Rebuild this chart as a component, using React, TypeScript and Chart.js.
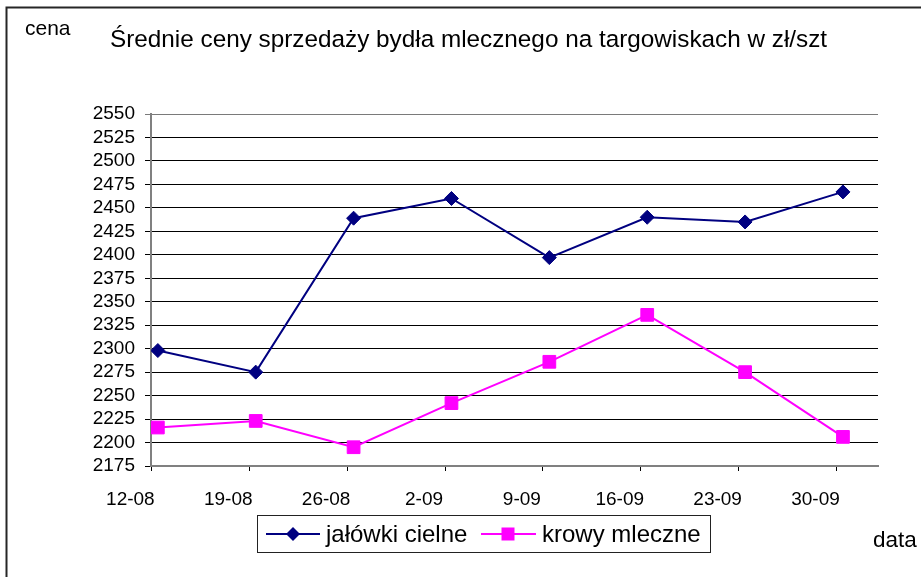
import React, { useEffect, useRef } from "react";
import { Chart, registerables } from "chart.js";

Chart.register(...registerables);

const categories = ["12-08", "19-08", "26-08", "2-09", "9-09", "16-09", "23-09", "30-09"];
const jalowkiCielne = [2298, 2275, 2439, 2460, 2397, 2440, 2435, 2467];
const krowyMleczne = [2216, 2223, 2195, 2242, 2286, 2336, 2275, 2206];
const yMin = 2175;
const yMax = 2550;
const yStep = 25;

const seriesNames = ["jałówki cielne", "krowy mleczne"];
const titleText = "Średnie ceny sprzedaży bydła mlecznego na targowiskach w zł/szt";
const yAxisTitle = "cena";
const xAxisTitle = "data";

const NAVY = "#000080";
const MAGENTA = "#FF00FF";
const FONT = "'Liberation Sans', Arial, sans-serif";

function drawDiamond(ctx: CanvasRenderingContext2D, x: number, y: number, r: number, color: string) {
  ctx.beginPath();
  ctx.moveTo(x - r, y);
  ctx.lineTo(x, y - r);
  ctx.lineTo(x + r, y);
  ctx.lineTo(x, y + r);
  ctx.closePath();
  ctx.fillStyle = color;
  ctx.fill();
}

function drawSquare(ctx: CanvasRenderingContext2D, x: number, y: number, h: number, color: string) {
  ctx.fillStyle = color;
  ctx.fillRect(x - h, y - h, 2 * h, 2 * h);
}

const decorPlugin = {
  id: "decor",
  afterDraw(chart: any) {
    const ctx: CanvasRenderingContext2D = chart.ctx;
    ctx.save();
    // outer frame (top + left visible)
    ctx.strokeStyle = "#262626";
    ctx.lineWidth = 2;
    ctx.beginPath();
    ctx.moveTo(6.5, 600);
    ctx.lineTo(6.5, 7.5);
    ctx.lineTo(940, 7.5);
    ctx.stroke();

    ctx.fillStyle = "#000";
    ctx.textBaseline = "alphabetic";
    ctx.textAlign = "left";
    ctx.font = `21px ${FONT}`;
    ctx.fillText(yAxisTitle, 25, 35);
    ctx.font = `24.3px ${FONT}`;
    ctx.fillText(titleText, 110, 47);
    ctx.font = `22.5px ${FONT}`;
    ctx.fillText(xAxisTitle, 873, 547);

    // legend box
    ctx.strokeStyle = "#222";
    ctx.lineWidth = 1;
    ctx.strokeRect(257.5, 515.5, 453, 37);
    const ly = 534;
    ctx.lineWidth = 2;
    ctx.strokeStyle = NAVY;
    ctx.beginPath();
    ctx.moveTo(266, ly);
    ctx.lineTo(320, ly);
    ctx.stroke();
    drawDiamond(ctx, 293, ly, 7, NAVY);
    ctx.strokeStyle = MAGENTA;
    ctx.beginPath();
    ctx.moveTo(481, ly);
    ctx.lineTo(536, ly);
    ctx.stroke();
    drawSquare(ctx, 508, ly, 6.5, MAGENTA);
    ctx.fillStyle = "#000";
    ctx.font = `24px ${FONT}`;
    ctx.fillText(seriesNames[0], 326, 542);
    ctx.fillText(seriesNames[1], 542, 542);
    ctx.restore();
  },
};

export default function App() {
  const canvasRef = useRef<HTMLCanvasElement | null>(null);

  useEffect(() => {
    document.body.style.margin = "0";
    const canvas = canvasRef.current;
    if (!canvas) return;
    const chart = new Chart(canvas, {
      type: "line",
      data: {
        datasets: [
          {
            label: seriesNames[0],
            data: jalowkiCielne.map((v, i) => ({ x: i, y: v })),
            borderColor: NAVY,
            backgroundColor: NAVY,
            borderWidth: 2,
            pointStyle: "rectRot",
            pointRadius: 7,
            pointBorderWidth: 1,
            pointBackgroundColor: NAVY,
            pointBorderColor: NAVY,
            tension: 0,
          },
          {
            label: seriesNames[1],
            data: krowyMleczne.map((v, i) => ({ x: i, y: v })),
            borderColor: MAGENTA,
            backgroundColor: MAGENTA,
            borderWidth: 2,
            pointStyle: "rect",
            pointRadius: 9,
            pointBorderWidth: 1,
            pointBackgroundColor: MAGENTA,
            pointBorderColor: MAGENTA,
            tension: 0,
          },
        ],
      },
      options: {
        responsive: false,
        animation: false,
        layout: { padding: { top: 114, right: 43, bottom: 0, left: 0 } },
        plugins: {
          legend: { display: false },
          title: { display: false },
          tooltip: { enabled: false },
        },
        scales: {
          x: {
            type: "linear",
            min: -0.07,
            max: 7.358,
            afterBuildTicks: (scale: any) => {
              scale.ticks = categories.map((_, i) => ({ value: i - 0.066 }));
            },
            afterFit: (scale: any) => {
              scale.height = 111;
            },
            grid: {
              drawOnChartArea: false,
              drawTicks: true,
              tickLength: 5,
              color: "#000",
              lineWidth: 1,
            },
            border: { display: true, color: "#808080", width: 2 },
            ticks: {
              autoSkip: false,
              maxRotation: 0,
              padding: 17,
              labelOffset: -21,
              color: "#000",
              font: { family: FONT, size: 19 },
              callback: (_v: any, idx: number) => categories[idx],
            },
          },
          y: {
            type: "linear",
            min: yMin,
            max: yMax,
            afterFit: (scale: any) => {
              scale.width = 151;
            },
            grid: {
              drawOnChartArea: true,
              drawTicks: true,
              tickLength: 6,
              color: (c: any) => (c.tick && c.tick.value === yMax ? "#7a7a7a" : "#000"),
              lineWidth: 1,
            },
            border: { display: true, color: "#808080", width: 2 },
            ticks: {
              stepSize: yStep,
              autoSkip: false,
              padding: 10,
              color: "#000",
              font: { family: FONT, size: 19, lineHeight: 1 },
              callback: (v: any) => String(v),
            },
          },
        },
      },
      plugins: [decorPlugin],
    });
    return () => chart.destroy();
  }, []);

  return (
    <div style={{ width: 921, height: 577, position: "relative", background: "#fff" }}>
      <canvas ref={canvasRef} width={921} height={577} />
    </div>
  );
}
